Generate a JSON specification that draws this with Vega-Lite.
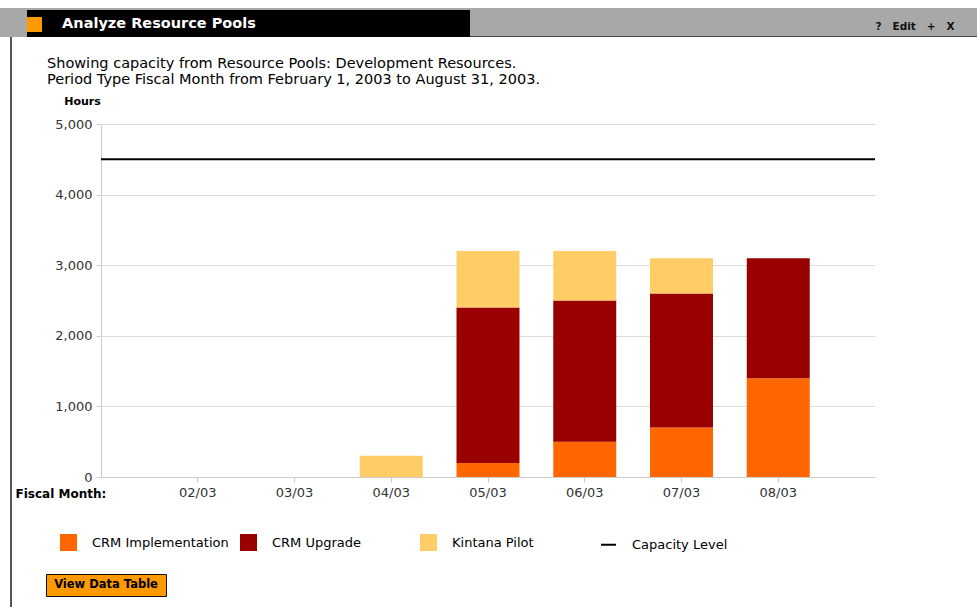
{
  "$schema": "https://vega.github.io/schema/vega-lite/v6.json",
  "padding": {"left": 0, "top": 8, "right": 0, "bottom": 0},
  "background": "white",
  "config": {"view": {"stroke": null}, "font": "DejaVu Sans"},
  "datasets": {
    "bars": [
      {"month": "04/03", "series": "Kintana Pilot", "hours": 300},
      {"month": "05/03", "series": "CRM Implementation", "hours": 200},
      {"month": "05/03", "series": "CRM Upgrade", "hours": 2200},
      {"month": "05/03", "series": "Kintana Pilot", "hours": 800},
      {"month": "06/03", "series": "CRM Implementation", "hours": 500},
      {"month": "06/03", "series": "CRM Upgrade", "hours": 2000},
      {"month": "06/03", "series": "Kintana Pilot", "hours": 700},
      {"month": "07/03", "series": "CRM Implementation", "hours": 700},
      {"month": "07/03", "series": "CRM Upgrade", "hours": 1900},
      {"month": "07/03", "series": "Kintana Pilot", "hours": 500},
      {"month": "08/03", "series": "CRM Implementation", "hours": 1400},
      {"month": "08/03", "series": "CRM Upgrade", "hours": 1700}
    ],
    "capacity": [
      {"series": "Capacity Level", "hours": 4500}
    ],
    "header": [{"label": "Analyze Resource Pools"}],
    "icons": [{"label": "?\u00a0\u00a0\u00a0Edit\u00a0\u00a0\u00a0+\u00a0\u00a0\u00a0X"}],
    "button": [{"label": "View Data Table"}],
    "empty": []
  },
  "spacing": 0,
  "vconcat": [
    {
      "spacing": 0,
      "hconcat": [
        {"width": 27, "height": 29, "view": {"fill": "#a8a8a8"}, "data": {"name": "empty"}, "mark": "text", "encoding": {}},
        {
          "spacing": 0,
          "vconcat": [
            {"width": 443, "height": 2, "view": {"fill": "#a8a8a8"}, "data": {"name": "empty"}, "mark": "text", "encoding": {}},
            {
              "spacing": 0,
              "hconcat": [
                {
                  "spacing": 0,
                  "vconcat": [
                    {"width": 15, "height": 7, "view": {"fill": "#000000"}, "data": {"name": "empty"}, "mark": "text", "encoding": {}},
                    {"width": 15, "height": 15, "view": {"fill": "#ff9900"}, "data": {"name": "empty"}, "mark": "text", "encoding": {}},
                    {"width": 15, "height": 5, "view": {"fill": "#000000"}, "data": {"name": "empty"}, "mark": "text", "encoding": {}}
                  ]
                },
                {"width": 234, "height": 27, "view": {"fill": "#000000"}, "data": {"name": "header"},
                 "mark": {"type": "text", "color": "white", "fontWeight": "bold", "fontSize": 14.5, "font": "DejaVu Sans"},
                 "encoding": {"text": {"field": "label"}}},
                {"width": 194, "height": 27, "view": {"fill": "#000000"}, "data": {"name": "empty"}, "mark": "text", "encoding": {}}
              ]
            }
          ]
        },
        {
          "spacing": 0,
          "vconcat": [
            {
              "spacing": 0,
              "hconcat": [
                {"width": 398, "height": 28, "view": {"fill": "#a8a8a8"}, "data": {"name": "empty"}, "mark": "text", "encoding": {}},
                {"width": 94, "height": 28, "view": {"fill": "#a8a8a8"}, "data": {"name": "icons"},
                 "mark": {"type": "text", "color": "#111111", "fontWeight": "bold", "fontSize": 10.5, "baseline": "top"},
                 "encoding": {"text": {"field": "label"}}},
                {"width": 15, "height": 28, "view": {"fill": "#a8a8a8"}, "data": {"name": "empty"}, "mark": "text", "encoding": {}}
              ]
            },
            {"width": 507, "height": 1, "view": {"fill": "#444444"}, "data": {"name": "empty"}, "mark": "text", "encoding": {}}
          ]
        }
      ]
    },
    {
      "spacing": 0,
      "hconcat": [
        {"width": 10, "height": 570, "data": {"name": "empty"}, "mark": "text", "encoding": {}},
        {"width": 2, "height": 570, "view": {"fill": "#555555"}, "data": {"name": "empty"}, "mark": "text", "encoding": {}},
        {
          "spacing": 0,
          "vconcat": [
            {"width": 1, "height": 18, "data": {"name": "empty"}, "mark": "text", "encoding": {}},
            {
              "spacing": 74,
              "vconcat": [
                {
                  "spacing": 0,
                  "hconcat": [
                    {"width": 3, "height": 1, "data": {"name": "empty"}, "mark": "text", "encoding": {}},
                    {
                      "width": 774,
                      "height": 353,
                      "title": {
                        "text": ["Showing capacity from Resource Pools: Development Resources.", "Period Type Fiscal Month from February 1, 2003 to August 31, 2003."],
                        "anchor": "start",
                        "frame": "group",
                        "dx": -54,
                        "offset": 8,
                        "fontSize": 14.5,
                        "fontWeight": "normal",
                        "color": "#000000",
                        "lineHeight": 16,
                        "font": "DejaVu Sans"
                      },
                      "layer": [
                        {
                          "data": {"name": "bars"},
                          "mark": {"type": "bar"},
                          "encoding": {
                            "x": {
                              "field": "month",
                              "type": "ordinal",
                              "scale": {"domain": ["02/03", "03/03", "04/03", "05/03", "06/03", "07/03", "08/03"], "paddingInner": 0.349, "paddingOuter": 0.6745},
                              "axis": {
                                "title": "Fiscal Month:",
                                "titleX": -86,
                                "titleY": 16,
                                "titleAlign": "left",
                                "titleBaseline": "middle",
                                "titleFontWeight": "bold",
                                "titleFontSize": 12,
                                "titleColor": "#000000",
                                "labelAngle": 0,
                                "labelFontSize": 13,
                                "labelColor": "#333333",
                                "labelPadding": 4,
                                "tickSize": 5,
                                "tickColor": "#cccccc",
                                "domainColor": "#cccccc"
                              }
                            },
                            "y": {
                              "field": "hours",
                              "type": "quantitative",
                              "stack": "zero",
                              "scale": {"domain": [0, 5000]},
                              "axis": {
                                "title": "Hours",
                                "titleAngle": 0,
                                "titleX": -19,
                                "titleY": -23,
                                "titleAlign": "center",
                                "titleBaseline": "middle",
                                "titleFontWeight": "bold",
                                "titleFontSize": 11,
                                "titleColor": "#000000",
                                "format": ",d",
                                "values": [0, 1000, 2000, 3000, 4000, 5000],
                                "gridColor": "#dddddd",
                                "domainColor": "#cccccc",
                                "tickColor": "#cccccc",
                                "tickSize": 5,
                                "labelFontSize": 13,
                                "labelColor": "#333333",
                                "labelPadding": 4
                              }
                            },
                            "order": {"field": "series", "type": "nominal", "sort": "ascending"},
                            "color": {
                              "field": "series",
                              "type": "nominal",
                              "scale": {
                                "domain": ["CRM Implementation", "CRM Upgrade", "Kintana Pilot", "Capacity Level"],
                                "range": ["#ff6600", "#990000", "#ffcc66", "#000000"]
                              },
                              "legend": {
                                "orient": "none",
                                "legendX": 60,
                                "legendY": 526,
                                "direction": "horizontal",
                                "columns": 4,
                                "gridAlign": "all",
                                "columnPadding": 8,
                                "symbolSize": 225,
                                "symbolType": "square",
                                "labelOffset": 15,
                                "labelFontSize": 13,
                                "labelColor": "#000000",
                                "labelFont": "DejaVu Sans",
                                "title": null,
                                "padding": 0,
                                "encode": {
                                  "symbols": {
                                    "update": {
                                      "shape": {"signal": "datum.value === 'Capacity Level' ? 'stroke' : 'square'"},
                                      "fill": {"signal": "datum.value === 'Capacity Level' ? 'transparent' : scale('color', datum.value)"},
                                      "stroke": {"signal": "datum.value === 'Capacity Level' ? '#000000' : 'transparent'"},
                                      "strokeWidth": {"value": 2},
                                      "opacity": {"value": 1}
                                    }
                                  }
                                }
                              }
                            }
                          }
                        },
                        {
                          "data": {"name": "capacity"},
                          "mark": {"type": "rule", "strokeWidth": 2},
                          "encoding": {
                            "y": {"field": "hours", "type": "quantitative"},
                            "color": {"field": "series", "type": "nominal"}
                          }
                        }
                      ]
                    }
                  ]
                },
                {
                  "spacing": 0,
                  "hconcat": [
                    {"width": 33, "height": 1, "data": {"name": "empty"}, "mark": "text", "encoding": {}},
                    {"width": 120, "height": 22, "view": {"fill": "#ff9900", "stroke": "#111111", "strokeWidth": 1}, "data": {"name": "button"},
                     "mark": {"type": "text", "color": "#000000", "fontWeight": "bold", "fontSize": 11.5},
                     "encoding": {"text": {"field": "label"}}}
                  ]
                }
              ]
            }
          ]
        }
      ]
    }
  ]
}
